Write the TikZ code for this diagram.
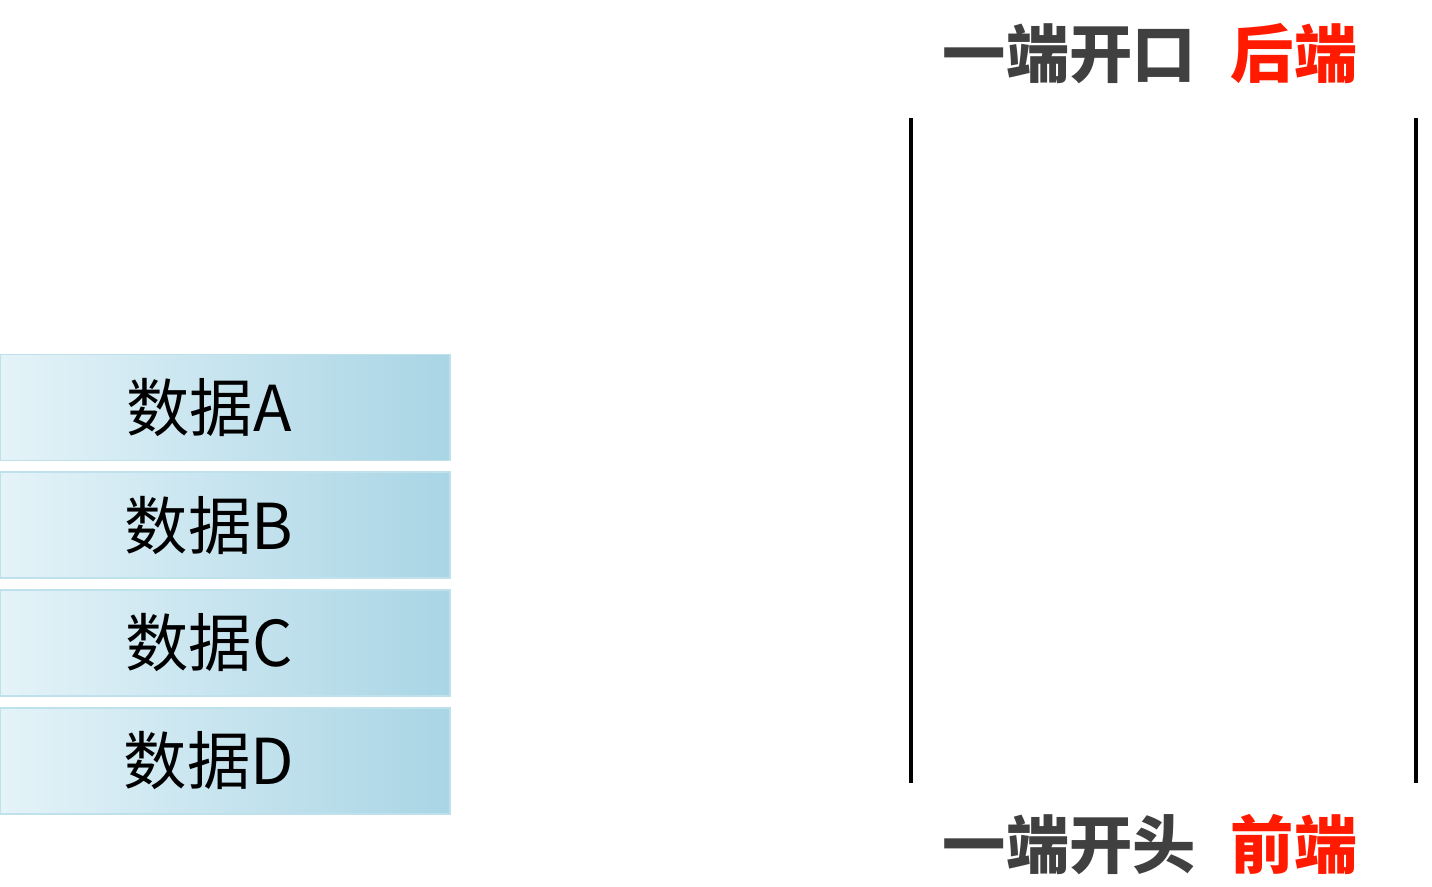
\documentclass[tikz,border=0pt]{standalone}
\usepackage{fontspec}
\usepackage{xcolor}
\usepackage{tikz}
\usetikzlibrary{positioning,calc}

\newfontfamily\cjk{Noto Sans CJK SC}
\definecolor{boxlight}{HTML}{E4F3F8}
\definecolor{boxdark}{HTML}{A9D5E5}
\definecolor{boxline}{HTML}{BFE1EC}
\definecolor{endgrey}{HTML}{404040}
\definecolor{endred}{HTML}{FF1A00}

\begin{document}
\begin{tikzpicture}[
  x=0.02cm, y=-0.02cm,
  data/.style={rectangle, draw=boxline, line width=1pt, left color=boxlight, right color=boxdark, minimum width=9cm, minimum height=2.12cm, inner sep=0pt,
    label={[font=\cjk\fontsize{36}{40}\selectfont, xshift=-0.32cm]center:#1}},
  endlabel/.style={font=\cjk\bfseries\fontsize{36}{40}\selectfont, text=endgrey, inner sep=0pt},
  wall/.style={line width=2.8pt, black}
]
\useasboundingbox (0,0) rectangle (1432,886);

% stack of data
\node[data=数据A] (dataA) at (225,407.5) {};
\node[data=数据B, below=0.2cm of dataA] (dataB) {};
\node[data=数据C, below=0.2cm of dataB] (dataC) {};
\node[data=数据D, below=0.2cm of dataC] (dataD) {};

% the tube
\coordinate (lt) at (911,118);
\coordinate (lb) at (911,783);
\coordinate (rt) at (1416,118);
\coordinate (rb) at (1416,783);
\draw[wall] (lt) -- (lb);
\draw[wall] (rt) -- (rb);

\node[endlabel] (top) at (1150,54) {一端开口\hspace{0.7cm}\textcolor{endred}{后端}};
\node[endlabel] (bottom) at (1150,845) {一端开头\hspace{0.7cm}\textcolor{endred}{前端}};

\end{tikzpicture}
\end{document}
